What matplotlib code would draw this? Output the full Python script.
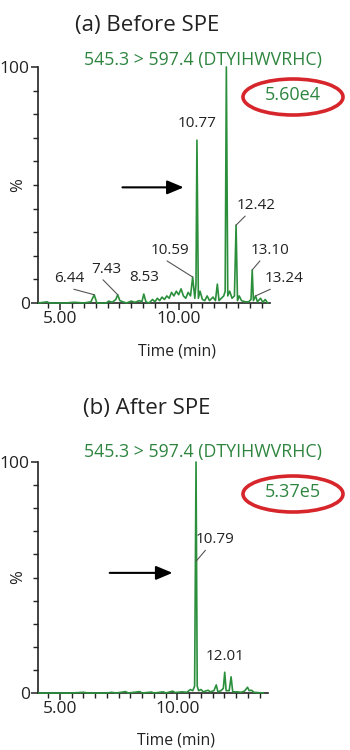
import matplotlib
matplotlib.use("Agg")
import matplotlib.pyplot as plt
from matplotlib.patches import Ellipse
from matplotlib.ticker import MultipleLocator, FixedLocator

plt.rcParams['font.family'] = ['Open Sans', 'DejaVu Sans']

# (a) Before SPE - trace
time_a = [4.10, 4.45, 4.55, 5.20, 5.60, 6.00, 6.30, 6.44, 6.55, 6.95, 7.05, 7.20, 7.35, 7.43,
          7.52, 7.65, 7.80, 8.00, 8.15, 8.35, 8.45, 8.53, 8.62, 8.75, 8.90, 9.00, 9.10, 9.20,
          9.30, 9.40, 9.50, 9.60, 9.70, 9.80, 9.90, 10.00, 10.10, 10.20, 10.30, 10.40, 10.50,
          10.59, 10.68, 10.73, 10.77, 10.83, 10.90, 11.00, 11.10, 11.20, 11.30, 11.45, 11.55,
          11.63, 11.70, 11.80, 11.90, 11.96, 12.01, 12.07, 12.15, 12.25, 12.35, 12.42, 12.48,
          12.55, 12.65, 12.80, 12.95, 13.05, 13.10, 13.15, 13.24, 13.32, 13.45, 13.55, 13.65, 13.75]
pct_a = [0, 0.5, 0, 0, 0.3, 0, 0.5, 3.5, 0, 0, 0.8, 0.3, 1.5, 3.5,
         1, 0.5, 0, 0.8, 0.3, 1, 0.5, 3.8, 0.5, 0, 1.5, 0.5, 2, 1,
         2.5, 1.5, 3, 2, 4.5, 3, 5, 3.5, 6, 3, 2, 4.5, 3,
         11, 2, 8, 69, 2, 5, 1.5, 1, 3, 1, 2.5, 1,
         8, 1, 2, 3, 5, 100, 3, 5, 2, 3, 33, 1,
         3, 1, 0.5, 0.5, 1.5, 14, 1, 3, 0.5, 2, 0.3, 1.5, 0]

# (b) After SPE
time_b = [4.10, 5.50, 6.00, 6.20, 7.00, 7.20, 7.40, 7.80, 7.90, 8.40, 8.50, 8.90, 9.00, 9.40,
          9.50, 9.80, 9.90, 10.20, 10.40, 10.55, 10.65, 10.73, 10.79, 10.84, 10.90, 11.00,
          11.10, 11.30, 11.40, 11.55, 11.65, 11.72, 11.85, 11.95, 12.01, 12.07, 12.20, 12.28,
          12.35, 12.55, 12.70, 12.85, 12.98, 13.05, 13.15, 13.25, 13.65]
pct_b = [0, 0, 0.3, 0, 0, 0.3, 0, 0.6, 0, 0.6, 0, 0.4, 0, 0.5,
         0, 0.8, 0.2, 0.5, 0.3, 1.5, 1, 3, 100, 3, 1, 1.5,
         0.5, 1.2, 0.5, 1, 3.5, 0.5, 1, 2, 9, 1, 1, 7,
         0.5, 0.5, 0.3, 0.8, 2.5, 1, 1.2, 0.3, 0]

# peak labels: (text, peak time, peak %, text x, text y, leader?)
labels_a = [("6.44", 6.44, 3.5, 5.40, 7.0, True),
            ("7.43", 7.43, 3.5, 6.95, 11.0, True),
            ("8.53", 8.53, 3.8, 8.53, 7.5, False),
            ("10.59", 10.59, 11, 9.65, 19.0, True),
            ("10.77", 10.77, 69, 10.77, 73.0, False),
            ("12.42", 12.42, 33, 13.25, 38.0, True),
            ("13.10", 13.10, 14, 13.85, 19.0, True),
            ("13.24", 13.24, 3, 14.45, 7.0, True)]
labels_b = [("10.79", 10.79, 57, 11.62, 63.0, True),
            ("12.01", 12.01, 9, 12.01, 12.5, False)]

channel = "545.3 > 597.4 (DTYIHWVRHC)"
titles = ["(a) Before SPE", "(b) After SPE"]
intensities = ["5.60e4", "5.37e5"]

W, H = 350, 750
green = '#2b8f3c'
tgreen = '#2e8540'
red = '#d7262b'

fig = plt.figure(figsize=(3.5, 7.5), dpi=100)


def fx(px):
    return px / W


def fy(py):
    return 1 - py / H


def panel(box, t, p, labels, title, inten, ty, cy, ey, arrow):
    left, top, right, bottom = box
    ax = fig.add_axes([fx(left), fy(bottom), fx(right) - fx(left), fy(top) - fy(bottom)])
    ax.plot(t, p, color=green, lw=1.2, zorder=3, clip_on=False)
    ax.set_xlim(4.07, 13.85)
    ax.set_ylim(0, 100)
    for s in ['top', 'right']:
        ax.spines[s].set_visible(False)
    for s in ['left', 'bottom']:
        ax.spines[s].set_linewidth(1.2)
        ax.spines[s].set_color('#222222')
    ax.xaxis.set_major_locator(FixedLocator([5, 10]))
    ax.xaxis.set_minor_locator(MultipleLocator(0.5))
    ax.set_xticklabels(["5.00", "10.00"])
    ax.yaxis.set_major_locator(FixedLocator([0, 100]))
    ax.yaxis.set_minor_locator(MultipleLocator(10))
    ax.set_yticklabels(["0", "100"])
    ax.tick_params(which='major', length=5, width=1.1, labelsize=12.5, pad=1, color='#222222',
                   labelcolor='#222222')
    ax.tick_params(which='minor', length=3.5, width=1.0, color='#222222')
    ax.set_ylabel("%", fontsize=12, color='#222222')
    ax.yaxis.set_label_coords(-0.05, 0.5)
    ax.set_xlabel("Time (min)", fontsize=11.3, color='#222222')
    ax.xaxis.set_label_coords(0.60, -0.17)
    for txt, pt, pp, tx, tyy, lead in labels:
        if lead:
            ax.annotate(txt, xy=(pt, pp), xytext=(tx, tyy), fontsize=11, ha='center', va='bottom',
                        color='#222222', annotation_clip=False,
                        arrowprops=dict(arrowstyle='-', color='#555555', lw=0.8,
                                        shrinkA=0, shrinkB=0, relpos=(0.3, 0.0)))
        else:
            ax.text(tx, tyy, txt, fontsize=11, ha='center', va='bottom', color='#222222', clip_on=False)
    ax.annotate("", xy=(arrow[1], arrow[2]), xytext=(arrow[0], arrow[2]),
                arrowprops=dict(arrowstyle='-|>,head_length=1.0,head_width=0.42', color='black', lw=1.5,
                                shrinkA=0, shrinkB=0))
    fig.text(fx(147), fy(ty), title, fontsize=16, ha='center', va='center', color='#222222')
    fig.text(fx(203), fy(cy), channel, fontsize=12.8, ha='center', va='center', color=tgreen)
    e = Ellipse((fx(293), fy(ey)), fx(100), 36 / H, transform=fig.transFigure,
                fill=False, edgecolor=red, lw=2.6)
    fig.patches.append(e)
    fig.text(fx(293), fy(ey - 2), inten, fontsize=13, ha='center', va='center', color=tgreen)
    return ax


panel((38, 67, 270, 303), time_a, pct_a, labels_a, titles[0], intensities[0], 25, 60, 97,
      (7.63, 10.21, 49))
panel((38, 462, 268, 693), time_b, pct_b, labels_b, titles[1], intensities[1], 408, 452, 494,
      (7.12, 9.79, 52))

fig.savefig("out.png", dpi=100)
